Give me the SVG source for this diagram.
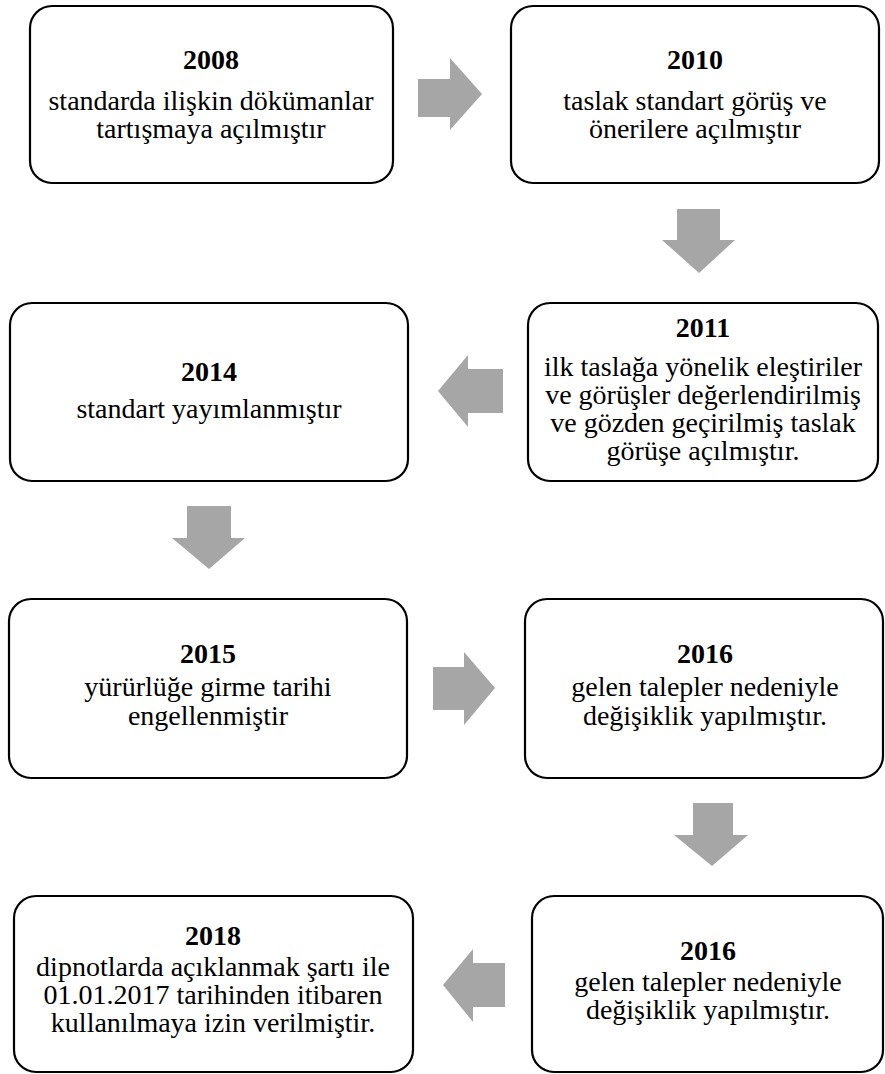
<svg xmlns="http://www.w3.org/2000/svg" width="885" height="1074" viewBox="0 0 885 1074">
<style>
.box{fill:#fff;stroke:#000;stroke-width:2.2}
text{font-family:'Liberation Serif',serif;font-size:28px;text-anchor:middle;fill:#000}
.yr{font-weight:bold}
.arr{fill:#A6A6A6}
</style>
<rect width="885" height="1074" fill="#fff"/>
<g id="connectors">
<path class="arr" d="M418,79 H450 V58 L482,94 L450,130 V117 H418 Z"/>
<path class="arr" d="M677,209 H720 V240 H735 L699,273 L662,240 H677 Z"/>
<path class="arr" d="M503,369 H468 V355 L438,391 L468,427 V413 H503 Z"/>
<path class="arr" d="M187,506 H231 V538 H245 L209,569 L172,538 H187 Z"/>
<path class="arr" d="M433,667 H464 V652 L495,688 L464,725 V710 H433 Z"/>
<path class="arr" d="M693,803 H733 V835 H748 L712,866 L674,835 H693 Z"/>
<path class="arr" d="M505,963 H473 V949 L443,985 L473,1022 V1007 H505 Z"/>
</g>
<g id="n2008">
<rect class="box" x="30" y="6" width="363" height="177" rx="22"/>
<text class="yr" x="211" y="69">2008</text>
<text x="211" y="110">standarda ilişkin dökümanlar</text>
<text x="211" y="138">tartışmaya açılmıştır</text>
</g>
<g id="n2010">
<rect class="box" x="511" y="6" width="368" height="177" rx="22"/>
<text class="yr" x="695" y="69">2010</text>
<text x="695" y="110">taslak standart görüş ve</text>
<text x="695" y="138">önerilere açılmıştır</text>
</g>
<g id="n2011">
<rect class="box" x="528" y="303" width="350" height="178" rx="22"/>
<text class="yr" x="703" y="337">2011</text>
<text x="703" y="376">ilk taslağa yönelik eleştiriler</text>
<text x="703" y="404">ve görüşler değerlendirilmiş</text>
<text x="703" y="432">ve gözden geçirilmiş taslak</text>
<text x="703" y="460">görüşe açılmıştır.</text>
</g>
<g id="n2014">
<rect class="box" x="10" y="303" width="398" height="178" rx="22"/>
<text class="yr" x="209" y="381">2014</text>
<text x="209" y="418">standart yayımlanmıştır</text>
</g>
<g id="n2015">
<rect class="box" x="9" y="599" width="398" height="179" rx="22"/>
<text class="yr" x="208" y="663">2015</text>
<text x="208" y="696">yürürlüğe girme tarihi</text>
<text x="208" y="725">engellenmiştir</text>
</g>
<g id="n2016a">
<rect class="box" x="525" y="599" width="358" height="179" rx="22"/>
<text class="yr" x="705" y="663">2016</text>
<text x="705" y="696">gelen talepler nedeniyle</text>
<text x="705" y="725">değişiklik yapılmıştır.</text>
</g>
<g id="n2018">
<rect class="box" x="14" y="896" width="399" height="176" rx="22"/>
<text class="yr" x="213" y="945">2018</text>
<text x="213" y="976">dipnotlarda açıklanmak şartı ile</text>
<text x="213" y="1004">01.01.2017 tarihinden itibaren</text>
<text x="213" y="1032">kullanılmaya izin verilmiştir.</text>
</g>
<g id="n2016b">
<rect class="box" x="532" y="896" width="351" height="176" rx="22"/>
<text class="yr" x="708" y="960">2016</text>
<text x="708" y="991">gelen talepler nedeniyle</text>
<text x="708" y="1019">değişiklik yapılmıştır.</text>
</g>
</svg>
